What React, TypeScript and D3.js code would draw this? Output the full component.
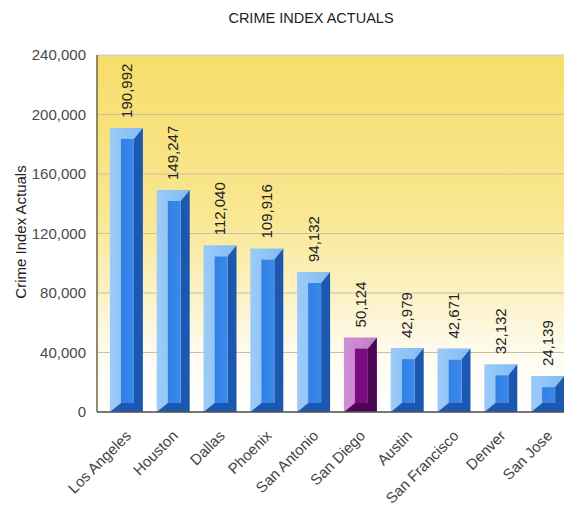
import React from "react";
import * as d3 from "d3";

const cities = ["Los Angeles","Houston","Dallas","Phoenix","San Antonio","San Diego","Austin","San Francisco","Denver","San Jose"];
const values = [190992,149247,112040,109916,94132,50124,42979,42671,32132,24139];
const highlighted = ["San Diego"];
const yTicks = [0,40000,80000,120000,160000,200000,240000];
const title = "CRIME INDEX ACTUALS";
const yTitle = "Crime Index Actuals";

const W = 564, H = 508;
const plotL = 97, plotT = 55, plotB = 412, plotR = 564;

export default function App() {
  const x = d3.scaleBand<string>().domain(cities).range([103, 571]).padding(0);
  const y = d3.scaleLinear().domain([0, 240000]).range([plotB, plotT]);
  const fmt = d3.format(",");
  const bw = 33;
  const lb = 11, tb = 11, rb = 9, bb = 9;

  return (
    <svg width={W} height={H} style={{ position: "absolute", left: 0, top: 0, fontFamily: "Liberation Sans, Arial, sans-serif" }}>
      <defs>
        <linearGradient id="bg" x1="0" y1="0" x2="0" y2="1">
          <stop offset="0" stopColor="#f7dd6a" />
          <stop offset="0.45" stopColor="#f9e792" />
          <stop offset="0.68" stopColor="#fcf2c8" />
          <stop offset="0.85" stopColor="#fefcf2" />
          <stop offset="1" stopColor="#ffffff" />
        </linearGradient>
        <linearGradient id="blueLight" x1="0" y1="0" x2="1" y2="0">
          <stop offset="0" stopColor="#9ccbf8" />
          <stop offset="1" stopColor="#82bbf4" />
        </linearGradient>
        <linearGradient id="blueFace" x1="0" y1="0" x2="1" y2="0">
          <stop offset="0" stopColor="#2f7fe6" />
          <stop offset="1" stopColor="#3a8aec" />
        </linearGradient>
        <linearGradient id="purpLight" x1="0" y1="0" x2="1" y2="0">
          <stop offset="0" stopColor="#cf8fd6" />
          <stop offset="1" stopColor="#c27ccb" />
        </linearGradient>
        <clipPath id="plotClip">
          <rect x={plotL} y={plotT - 80} width={plotR - plotL} height={plotB - plotT + 80} />
        </clipPath>
      </defs>
      <rect x={0} y={0} width={W} height={H} fill="#ffffff" />
      <text x={311} y={23} textAnchor="middle" fontSize={14.5} fill="#222">{title}</text>
      <rect x={plotL} y={plotT} width={plotR - plotL} height={plotB - plotT} fill="url(#bg)" />
      {yTicks.map((t) => (
        <line key={"g" + t} x1={plotL} x2={plotR} y1={y(t)} y2={y(t)} stroke={t === 240000 ? "#c8c4e6" : "#c9c09c"} strokeWidth={1} />
      ))}
      {yTicks.map((t) => (
        <text key={"t" + t} x={86} y={y(t)} dy="0.35em" textAnchor="end" fontSize={15} fill="#4a4a4a">{fmt(t)}</text>
      ))}
      <text transform={`translate(21,232) rotate(-90)`} textAnchor="middle" dy="0.35em" fontSize={15} fill="#222">{yTitle}</text>
      <g clipPath="url(#plotClip)">
        {cities.map((c, i) => {
          const v = values[i];
          const cx = (x(c) as number) + x.bandwidth() / 2;
          const x0 = cx - bw / 2, x1 = cx + bw / 2;
          const yt = y(v), yb = y(0);
          const hl = highlighted.includes(c);
          const light = hl ? "url(#purpLight)" : "url(#blueLight)";
          const face = hl ? "#7a0c82" : "url(#blueFace)";
          const dark = hl ? "#4c0552" : "#1d58b0";
          const lightPts = [[x0, yb], [x0, yt], [x1, yt], [x1 - rb, yt + tb], [x0 + lb, yt + tb], [x0 + lb, yb - bb]];
          const darkPts = [[x1, yt], [x1, yb], [x0, yb], [x0 + lb, yb - bb], [x1 - rb, yb - bb], [x1 - rb, yt + tb]];
          const pts = (p: number[][]) => p.map((q) => q.join(",")).join(" ");
          return (
            <g key={c}>
              <polygon points={pts(lightPts)} fill={light} />
              <polygon points={pts(darkPts)} fill={dark} />
              <rect x={x0 + lb} y={yt + tb} width={bw - lb - rb} height={Math.max(0, yb - bb - yt - tb)} fill={face} />
              <text transform={`translate(${cx},${yt - 10}) rotate(-90)`} dy="0.35em" textAnchor="start" fontSize={15} fill="#222">{fmt(v)}</text>
            </g>
          );
        })}
      </g>
      <line x1={plotL} x2={plotL} y1={plotT} y2={plotB} stroke="#6b6546" strokeWidth={1.5} />
      <line x1={plotL} x2={plotR} y1={plotB} y2={plotB} stroke="#555" strokeWidth={1.5} />
      {cities.map((c) => {
        const cx = (x(c) as number) + x.bandwidth() / 2;
        return (
          <text key={"x" + c} transform={`translate(${cx + 2},${plotB + 21}) rotate(-45)`} textAnchor="end" dy="0.35em" fontSize={15} fill="#444">{c}</text>
        );
      })}
    </svg>
  );
}
